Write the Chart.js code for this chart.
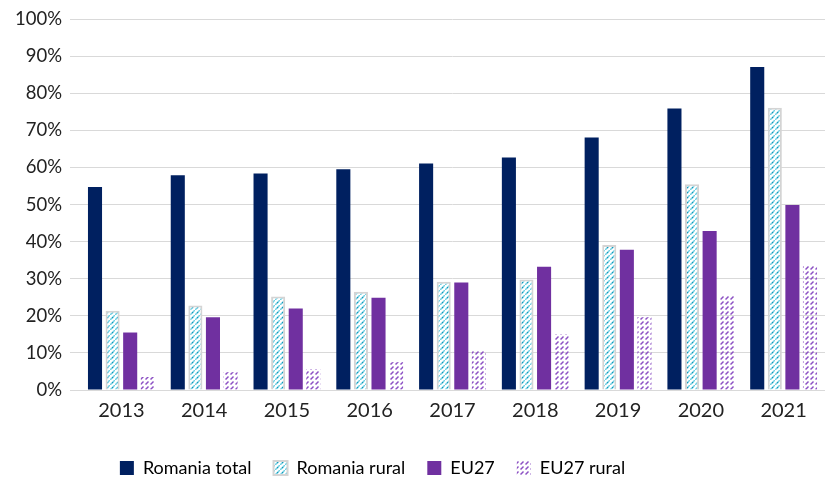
<!DOCTYPE html>
<html>
<head>
<meta charset="utf-8">
<script src="https://cdn.jsdelivr.net/npm/chart.js@4"></script>
<style>
  body { margin: 0; background: #fff; }
  #wrap { width: 825px; height: 482px; }
</style>
</head>
<body>
<div id="wrap"><canvas id="barChart" width="825" height="482"></canvas></div>
<script>
var years = ["2013", "2014", "2015", "2016", "2017", "2018", "2019", "2020", "2021"];
var romaniaTotal = [54.7, 57.9, 58.4, 59.5, 61.1, 62.7, 68.1, 75.9, 87.1];
var romaniaRural = [21.4, 22.8, 25.2, 26.5, 29.2, 29.8, 39.1, 55.5, 76.1];
var eu27 = [15.5, 19.6, 22.0, 24.9, 29.0, 33.2, 37.8, 42.9, 49.9];
var eu27Rural = [3.5, 4.8, 5.6, 7.5, 10.5, 15.0, 19.6, 25.5, 33.5];

// diagonal hatch fill, like the Excel pattern fills
function hatch(bg, color, dotColor) {
  var s = 5;
  var c = document.createElement("canvas");
  c.width = s;
  c.height = s;
  var g = c.getContext("2d");
  if (bg) {
    g.fillStyle = bg;
    g.fillRect(0, 0, s, s);
  }
  g.strokeStyle = color;
  g.lineWidth = 1.5;
  g.beginPath();
  if (dotColor) {
    g.moveTo(-1, s + 1); g.lineTo(s + 1, -1);
    g.moveTo(-s - 1, 1); g.lineTo(1, -s - 1);
    g.moveTo(s - 1, 2 * s + 1); g.lineTo(2 * s + 1, s - 1);
  } else {
    // short dashes along the diagonal
    g.moveTo(0.5, 4.5); g.lineTo(3.5, 1.5);
  }
  g.stroke();
  if (dotColor) {
    g.fillStyle = dotColor;
    g.fillRect(2, 2, 1.2, 1.2);
  }
  return g.createPattern(c, "repeat");
}

// nudge legend to where the original sits
var legendShift = {
  id: "legendShift",
  afterLayout: function (chart) {
    var l = chart.legend;
    l.left -= 40; l.right -= 40;
    l.top += 13; l.bottom += 13;
  },
};

var ctx = document.getElementById("barChart").getContext("2d");
var font = "Lato, 'Open Sans', sans-serif";

var myChart = new Chart(ctx, {
  type: "bar",
  data: {
    labels: years,
    datasets: [
      {
        label: "Romania total",
        data: romaniaTotal,
        backgroundColor: "#002060",
        borderWidth: 0,
      },
      {
        label: "Romania rural",
        data: romaniaRural,
        backgroundColor: hatch("#ffffff", "#6fcfe2", "#1596b8"),
        borderColor: "#d4d4d4",
        borderWidth: 2,
      },
      {
        label: "EU27",
        data: eu27,
        backgroundColor: "#7030a0",
        borderWidth: 0,
      },
      {
        label: "EU27 rural",
        data: eu27Rural,
        backgroundColor: hatch(null, "#8c50c4"),
        borderWidth: 0,
      },
    ],
  },
  plugins: [legendShift],
  options: {
    responsive: false,
    animation: false,
    layout: { padding: { top: 4, right: 0, left: 0, bottom: 8 } },
    datasets: {
      bar: { categoryPercentage: 0.85, barPercentage: 0.8 },
    },
    plugins: {
      tooltip: { enabled: false },
      legend: {
        position: "bottom",
        labels: {
          boxWidth: 14,
          boxHeight: 14,
          padding: 22,
          color: "#000",
          font: { family: font, size: 18 },
        },
      },
    },
    scales: {
      x: {
        grid: { display: false },
        border: { color: "#d9d9d9", width: 1 },
        ticks: { color: "#222", font: { family: font, size: 20 }, padding: 1 },
      },
      y: {
        min: 0,
        max: 100,
        afterFit: function (scale) { scale.width = 80; },
        grid: { color: "#d9d9d9", drawTicks: true, tickLength: 10 },
        border: { display: false },
        ticks: {
          stepSize: 10,
          color: "#222",
          padding: 8,
          font: { family: font, size: 18.5 },
          callback: function (v) { return v + "%"; },
        },
      },
    },
  },
});
</script>
</body>
</html>
